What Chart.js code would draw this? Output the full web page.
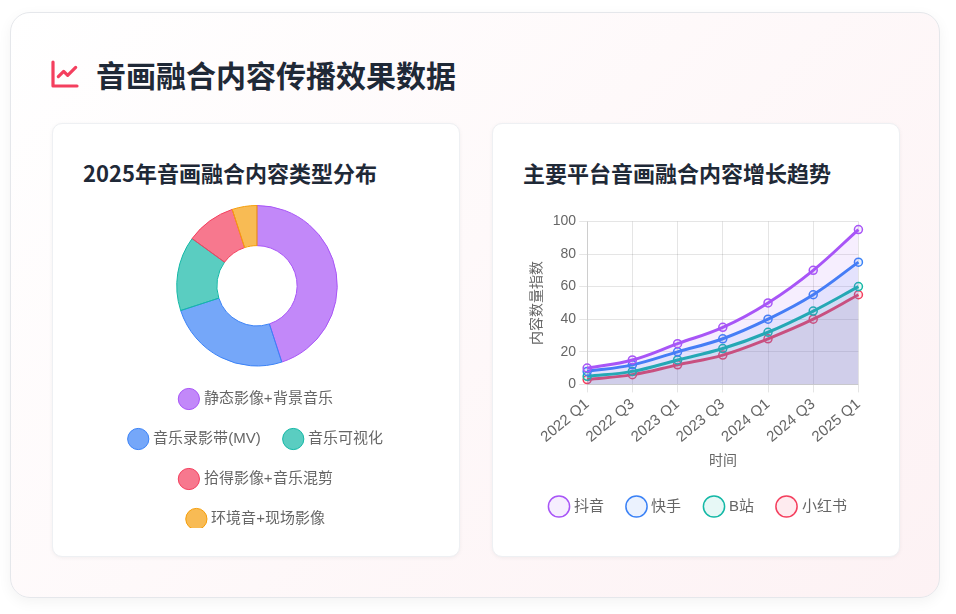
<!DOCTYPE html>
<html lang="zh-CN">
<head>
<meta charset="utf-8">
<title>音画融合内容传播效果数据</title>
<script src="https://cdn.jsdelivr.net/npm/chart.js@4.4.1/dist/chart.umd.min.js"></script>
<style>
  html, body { margin: 0; padding: 0; background: #fff; }
  body { width: 956px; height: 614px; position: relative; overflow: hidden;
         font-family: "Noto Sans CJK SC", "Noto Sans", sans-serif; }
  .panel { position: absolute; left: 10px; top: 12px; width: 928px; height: 584px;
           border: 1px solid #e5e7eb; border-radius: 20px;
           background: linear-gradient(135deg, #ffffff 0%, #fdf2f4 100%);
           box-shadow: 0 4px 14px rgba(0,0,0,0.05); }
  .head { position: absolute; left: 38px; top: 40px; height: 42px; display: flex; align-items: center; }
  .head svg { width: 32px; height: 32px; margin-right: 15px; }
  .head h2 { margin: 0; font-size: 30px; font-weight: 700; color: #1f2937; line-height: 42px; }
  .card { position: absolute; top: 110px; width: 408px; height: 434px; background: #fff;
          border: 1px solid #eef0f3; border-radius: 10px; box-sizing: border-box;
          box-shadow: 0 1px 4px rgba(0,0,0,0.05); }
  .card h3 { position: absolute; left: 30px; top: 34px; margin: 0; font-size: 22px;
             font-weight: 700; color: #1f2937; line-height: 28px; }
  .box { position: absolute; left: 30px; width: 348px; overflow: hidden; }
</style>
</head>
<body>
<div class="panel">
  <div class="head">
    <svg viewBox="0 0 24 24" fill="none" stroke="#f43f5e" stroke-width="2.4" stroke-linecap="round" stroke-linejoin="round">
      <path d="M3 3v18h18"/>
      <path d="M7 14l4-4 3 3 6-6"/>
    </svg>
    <h2>音画融合内容传播效果数据</h2>
  </div>
  <div class="card" style="left:41px;">
    <h3>2025年音画融合内容类型分布</h3>
    <div class="box" style="top:81px;height:323px;"><canvas id="typeChart"></canvas></div>
  </div>
  <div class="card" style="left:481px;">
    <h3>主要平台音画融合内容增长趋势</h3>
    <div class="box" style="top:86px;height:314px;left:32px;width:348px;"><canvas id="trendChart"></canvas></div>
  </div>
</div>
<script>
var typeLabels = ['静态影像+背景音乐', '音乐录影带(MV)', '音乐可视化', '拾得影像+音乐混剪', '环境音+现场影像'];
var typeShares = [45, 25, 15, 10, 5];

var quarters = ['2022 Q1', '2022 Q3', '2023 Q1', '2023 Q3', '2024 Q1', '2024 Q3', '2025 Q1'];
var douyin = [10, 15, 25, 35, 50, 70, 95];
var kuaishou = [8, 12, 20, 28, 40, 55, 75];
var bilibili = [5, 8, 15, 22, 32, 45, 60];
var xiaohongshu = [3, 6, 12, 18, 28, 40, 55];

var rgb = {
  purple: '168, 85, 247',
  blue: '59, 130, 246',
  teal: '20, 184, 166',
  red: '244, 63, 94',
  amber: '245, 158, 11'
};
function rgba(c, a) { return 'rgba(' + rgb[c] + ', ' + a + ')'; }

var sliceColors = ['purple', 'blue', 'teal', 'red', 'amber'];

new Chart(document.getElementById('typeChart'), {
  type: 'doughnut',
  data: {
    labels: typeLabels,
    datasets: [{
      data: typeShares,
      backgroundColor: sliceColors.map(function(c) { return rgba(c, 0.7); }),
      borderColor: sliceColors.map(function(c) { return rgba(c, 1); }),
      borderWidth: 1
    }]
  },
  options: {
    responsive: true,
    maintainAspectRatio: false,
    animation: false,
    cutout: '50%',
    plugins: {
      legend: {
        position: 'bottom',
        labels: { usePointStyle: true, pointStyle: 'circle', padding: 25, font: { size: 15 }, color: '#666' }
      }
    }
  }
});

function line(label, data, c) {
  return {
    label: label,
    data: data,
    borderColor: rgba(c, 1),
    backgroundColor: rgba(c, 0.1),
    pointBackgroundColor: rgba(c, 0.1),
    pointBorderColor: rgba(c, 1),
    pointRadius: 4,
    pointBorderWidth: 1.5,
    borderWidth: 3,
    tension: 0.4,
    fill: true
  };
}

new Chart(document.getElementById('trendChart'), {
  type: 'line',
  data: {
    labels: quarters,
    datasets: [
      line('抖音', douyin, 'purple'),
      line('快手', kuaishou, 'blue'),
      line('B站', bilibili, 'teal'),
      line('小红书', xiaohongshu, 'red')
    ]
  },
  options: {
    responsive: true,
    maintainAspectRatio: false,
    animation: false,
    scales: {
      x: {
        title: { display: true, text: '时间', font: { size: 14 } },
        ticks: { font: { size: 15 }, maxRotation: 40, minRotation: 40 }
      },
      y: {
        beginAtZero: true,
        max: 100,
        title: { display: true, text: '内容数量指数', font: { size: 14 } },
        ticks: { stepSize: 20, font: { size: 14 } }
      }
    },
    plugins: {
      legend: {
        position: 'bottom',
        labels: { usePointStyle: true, pointStyle: 'circle', padding: 25, font: { size: 15 }, color: '#666' }
      }
    }
  }
});
</script>
</body>
</html>
